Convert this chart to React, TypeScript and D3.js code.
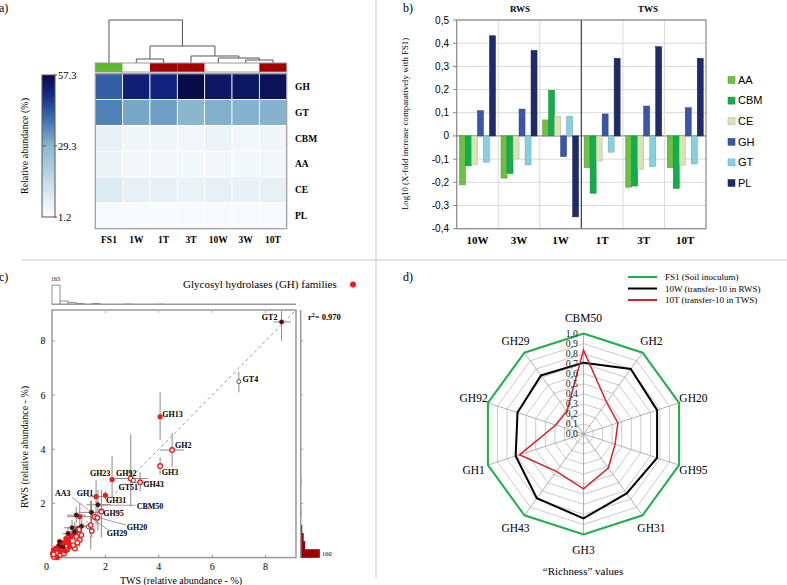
import React from "react";
import * as d3 from "d3";

const SERIF = "'Liberation Serif','Times New Roman',serif";
const SANS = "'Liberation Sans',Arial,sans-serif";

// ---------------- Panel a : heatmap ----------------
const samples = ["FS1", "1W", "1T", "3T", "10W", "3W", "10T"];
const sampleSystem = ["soil", "RWS", "TWS", "TWS", "RWS", "RWS", "TWS"];
const families = ["GH", "GT", "CBM", "AA", "CE", "PL"];
const abGH = [42.5, 52, 51, 57.3, 54, 54.3, 55.5];
const abGT = [37.5, 32, 33, 29.5, 30.5, 30, 30];
const abCBM = [7.1, 4.5, 4.5, 4.2, 5.5, 4.3, 4.5];
const abAA = [6, 4.2, 4.2, 4, 4.2, 4, 4.2];
const abCE = [9.6, 7.3, 7, 6.5, 7, 6.8, 7.2];
const abPL = [3.2, 3, 2.8, 3, 3, 3, 3];
const colorbarTicks = [57.3, 29.3, 1.2];
const dendroA = ["1W", "3W", "10W", "3T", "n1", "FS1"];
const dendroB = ["1T", "10T", "n2", "n3", "n4", "n5"];
const dendroH = [0.093, 0.07, 0.116, 0.163, 0.395, 1];

// ---------------- Panel b : bars ----------------
const bGroups = ["10W", "3W", "1W", "1T", "3T", "10T"];
const bSeries = ["AA", "CBM", "CE", "GH", "GT", "PL"];
const bColors = ["#6dbf45", "#12ad4c", "#d6e4b8", "#3b56a8", "#88d0e0", "#1f2b68"];
const logAA = [-0.211, -0.182, 0.069, -0.137, -0.221, -0.137];
const logCBM = [-0.129, -0.162, 0.197, -0.247, -0.216, -0.226];
const logCE = [-0.122, -0.099, 0.085, -0.108, -0.144, -0.126];
const logGH = [0.109, 0.116, -0.089, 0.095, 0.129, 0.122];
const logGT = [-0.113, -0.125, 0.085, -0.07, -0.132, -0.121];
const logPL = [0.432, 0.369, -0.349, 0.335, 0.385, 0.335];
const bTicks = [0.5, 0.4, 0.3, 0.2, 0.1, 0, -0.1, -0.2, -0.3, -0.4];

// ---------------- Panel c : scatter ----------------
const cNames = ["GT2", "GT4", "GH13", "GH2", "GH3", "GH23", "GH92", "GT51", "GH43", "GH1", "GH31", "CBM50", "AA3", "GH95", "GH20", "GH29"];
const cTWS = [8.6, 7.0, 4.05, 4.5, 4.05, 2.25, 2.95, 3.05, 3.3, 1.65, 2.0, 1.72, 1.48, 1.85, 1.6, 1.7];
const cRWS = [8.7, 6.5, 5.2, 3.97, 3.38, 2.88, 2.92, 2.85, 2.78, 2.25, 2.3, 1.95, 1.67, 1.7, 1.5, 1.47];
const cKind = ["other", "otherOpen", "gh", "ghOpen", "ghOpen", "gh", "ghOpen", "otherOpen", "ghOpen", "gh", "gh", "other", "other", "ghOpen", "ghOpen", "ghOpen"];
const cTWSlo = [8.3, 7.0, 4.05, 4.05, 4.05, 2.25, 2.3, 3.05, 2.95, 1.35, 2.0, 1.3, 1.0, 1.85, 1.6, 1.7];
const cTWShi = [8.95, 7.0, 4.05, 4.95, 4.05, 2.25, 3.6, 3.05, 3.65, 2.1, 2.0, 2.2, 1.9, 1.85, 1.6, 1.7];
const cRWSlo = [8.0, 6.1, 4.35, 3.35, 3.05, 2.2, 1.9, 2.85, 2.45, 1.2, 2.15, 1.0, 1.2, 0.75, 1.5, 1.47];
const cRWShi = [9.1, 6.85, 6.1, 4.6, 3.7, 3.75, 4.55, 2.85, 3.15, 2.85, 2.45, 2.5, 2.1, 2.5, 1.5, 1.47];
const cLabelX = [7.86, 7.14, 4.13, 4.61, 4.11, 1.42, 2.4, 2.49, 3.42, 0.93, 2.02, 3.17, 0.11, 1.92, 2.8, 2.05];
const cLabelY = [8.87, 6.57, 5.29, 4.15, 3.16, 3.1, 3.13, 2.59, 2.71, 2.39, 2.12, 1.91, 2.37, 1.65, 1.14, 0.9];
const leaderName = ["AA3", "CBM50", "GH20", "GH29"];
const leaderX1 = [0.74, 1.75, 1.65, 1.55];
const leaderY1 = [2.24, 1.94, 1.5, 1.4];
const leaderX2 = [1.45, 3.12, 2.78, 2.08];
const leaderY2 = [1.69, 1.93, 1.2, 1.05];
const clTWS = [1.04, 0.91, 0.75, 0.99, 1.11, 1.36, 1.45, 1.49, 1.01, 0.88, 0.86, 0.79, 0.70, 0.60, 0.91, 1.10, 1.04, 0.79, 0.47, 0.35, 0.22, 0.10, 0.02, 0.54, 0.29, 0.16, 0.04, 0.66, 0.41, 0.60, 0.85, 0.05, 0.18, 0.30, 0.12, 0.25, 0.40, 0.52, 0.08, 0.33, 0.45, 0.62, 0.20, 0.14, 0.06, 0.28, 0.50, 0.95];
const clRWS = [1.51, 1.57, 1.10, 1.08, 1.16, 1.14, 1.20, 0.98, 1.03, 0.95, 0.34, 0.83, 0.77, 0.65, 0.77, 0.83, 0.65, 0.46, 0.53, 0.40, 0.31, 0.22, 0.16, 0.28, 0.16, 0.10, 0.06, 0.40, 0.39, 0.89, 0.95, 0.28, 0.16, 0.10, 0.05, 0.45, 0.55, 0.70, 0.02, 0.22, 0.15, 0.55, 0.0, 0.35, 0.12, 0.60, 0.25, 0.55];
const clKind = ["gh", "other", "other", "other", "other", "otherOpen", "ghOpen", "ghOpen", "ghOpen", "ghOpen", "ghOpen", "gh", "gh", "gh", "ghOpen", "ghOpen", "ghOpen", "ghOpen", "gh", "gh", "gh", "gh", "gh", "ghOpen", "ghOpen", "ghOpen", "gh", "gh", "other", "other", "other", "gh", "ghOpen", "ghOpen", "gh", "other", "gh", "gh", "ghOpen", "gh", "ghOpen", "gh", "gh", "gh", "ghOpen", "other", "gh", "ghOpen"];
const clXerr = [0.47, 0.35, 0.3, 0, 0.25, 0.15, 0, 0, 0, 0.2, 0, 0.15, 0, 0, 0, 0, 0, 0, 0.2, 0, 0, 0, 0, 0, 0, 0, 0, 0, 0.1, 0.2, 0.3, 0, 0, 0, 0, 0, 0, 0, 0, 0, 0, 0, 0, 0, 0, 0, 0, 0];
const clYerr = [0.5, 0.3, 0.3, 0, 0.25, 0, 0.9, 0.25, 0, 0.2, 0, 0.2, 0.2, 0.3, 0, 0, 0.25, 0, 0.15, 0.15, 0, 0, 0, 0, 0, 0, 0, 0.2, 0, 0.25, 0.35, 0, 0, 0, 0, 0.15, 0, 0.2, 0, 0, 0, 0.25, 0, 0, 0, 0, 0, 0];
const histBin = 0.3;
const topHistCounts = [163, 28, 14, 6, 0, 6, 0, 0, 0, 2, 0, 0, 0, 1];
const rightHistCounts = [160, 36, 22, 11, 0, 2, 0, 0, 0, 2];

// ---------------- Panel d : radar ----------------
const radarAxes = ["CBM50", "GH2", "GH20", "GH95", "GH31", "GH3", "GH43", "GH1", "GH92", "GH29"];
const richFS1 = [1, 1, 1, 1, 1, 1, 1, 1, 1, 1];
const rich10W = [0.71, 0.8, 0.77, 0.77, 0.73, 0.84, 0.79, 0.71, 0.69, 0.72];
const rich10T = [0.835, 0.39, 0.36, 0.33, 0.42, 0.545, 0.46, 0.67, 0.29, 0.28];
const radarNames = ["FS1 (Soil inoculum)", "10W (transfer-10 in RWS)", "10T (transfer-10 in TWS)"];
const radarColors = ["#1fb04a", "#000000", "#d0262b"];

function fmtComma(v: number) {
  if (v === 0) return "0";
  return (v < 0 ? "-" : "") + Math.abs(v).toFixed(1).replace(".", ",");
}

function PanelA() {
  const hx = d3.scaleBand<string>().domain(samples).range([95.3, 286.7]);
  const hy = d3.scaleBand<string>().domain(families).range([73.7, 228.7]);
  const heat = d3
    .scaleLinear<string>()
    .domain([1.2, 29.3, 40, 50, 57.3])
    .range(["#ffffff", "#8ab8cf", "#3d6fae", "#132585", "#080c48"]);
  const matrix = [abGH, abGT, abCBM, abAA, abCE, abPL];
  const sysColor: Record<string, string> = { soil: "#5db92c", RWS: "#ffffff", TWS: "#a30000" };
  const dy = d3.scaleLinear().domain([0, 1]).range([63, 20]);
  const nodes: Record<string, { x: number; h: number }> = {};
  samples.forEach((s) => (nodes[s] = { x: hx(s)! + hx.bandwidth() / 2, h: 0 }));
  const dPaths: string[] = [];
  dendroA.forEach((a, i) => {
    const b = dendroB[i];
    const na = nodes[a], nb = nodes[b];
    const h = dendroH[i];
    nodes["n" + (i + 1)] = { x: (na.x + nb.x) / 2, h };
    dPaths.push(`M${na.x},${dy(na.h)}V${dy(h)}H${nb.x}V${dy(nb.h)}`);
  });
  const cb = d3.scaleLinear().domain([1.2, 57.3]).range([217, 75]);
  const stops = d3.range(0, 1.0001, 0.05);
  return (
    <g>
      <text x={-1} y={12} fontFamily={SERIF} fontSize={12}>a)</text>
      <defs>
        <linearGradient id="cbgrad" x1="0" y1="1" x2="0" y2="0">
          {stops.map((t) => (
            <stop key={t} offset={t} stopColor={heat(1.2 + t * (57.3 - 1.2))} />
          ))}
        </linearGradient>
      </defs>
      {dPaths.map((p, i) => (
        <path key={i} d={p} fill="none" stroke="#555" strokeWidth={1} />
      ))}
      {samples.map((s, i) => (
        <rect key={s} x={hx(s)} y={63} width={hx.bandwidth()} height={9} fill={sysColor[sampleSystem[i]]} />
      ))}
      <rect x={95.3} y={63} width={191.4} height={9} fill="none" stroke="#999" strokeWidth={1} />
      {families.map((f, r) =>
        samples.map((s, c) => (
          <rect key={f + s} x={hx(s)} y={hy(f)} width={hx.bandwidth()} height={hy.bandwidth()} fill={heat(matrix[r][c])} stroke="#ffffff" strokeWidth={0.8} />
        ))
      )}
      <rect x={95.3} y={73.7} width={191.4} height={155} fill="none" stroke="#999" strokeWidth={1.2} />
      {families.map((f) => (
        <text key={f} x={295} y={hy(f)! + hy.bandwidth() / 2} dy="0.35em" fontFamily={SERIF} fontWeight="bold" fontSize={9.5}>{f}</text>
      ))}
      {samples.map((s) => (
        <text key={s} x={hx(s)! + hx.bandwidth() / 2} y={243} textAnchor="middle" fontFamily={SERIF} fontWeight="bold" fontSize={9.5}>{s}</text>
      ))}
      <rect x={42} y={75} width={13} height={142} fill="url(#cbgrad)" stroke="#555" strokeWidth={1} />
      {colorbarTicks.map((t) => (
        <g key={t}>
          <line x1={54} x2={57} y1={cb(t)} y2={cb(t)} stroke="#555" />
          <text x={58} y={cb(t)} dy="0.35em" fontFamily={SERIF} fontSize={10.5}>{t.toFixed(1)}</text>
        </g>
      ))}
      <line x1={43} x2={46} y1={cb(29.3)} y2={cb(29.3)} stroke="#555" />
      <text transform={`translate(28,146) rotate(-90)`} textAnchor="middle" fontFamily={SERIF} fontSize={10}>Relative abundance (%)</text>
    </g>
  );
}

function PanelB() {
  const bx = d3.scaleBand<string>().domain(bGroups).range([456.7, 706]);
  const bxi = d3.scaleBand<string>().domain(bSeries).range([0, bx.bandwidth()]).paddingOuter(0.46);
  const by = d3.scaleLinear().domain([-0.4, 0.5]).range([228.7, 20]);
  const vals = [logAA, logCBM, logCE, logGH, logGT, logPL];
  return (
    <g>
      <text x={403} y={12} fontFamily={SERIF} fontSize={12}>b)</text>
      <text x={520} y={12} textAnchor="middle" fontFamily={SERIF} fontWeight="bold" fontSize={9}>RWS</text>
      <text x={648} y={12} textAnchor="middle" fontFamily={SERIF} fontWeight="bold" fontSize={9}>TWS</text>
      {bTicks.map((t) => (
        <g key={t}>
          <line x1={456.7} x2={706} y1={by(t)} y2={by(t)} stroke={t === 0 ? "#888" : "#d9d9d9"} strokeWidth={t === 0 ? 1.2 : 1} />
          <line x1={453} x2={456.7} y1={by(t)} y2={by(t)} stroke="#888" />
          <text x={449} y={by(t)} dy="0.35em" textAnchor="end" fontFamily={SANS} fontSize={10}>{fmtComma(t)}</text>
        </g>
      ))}
      {bGroups.slice(1).map((g) => (
        <line key={g} x1={bx(g)} x2={bx(g)} y1={20} y2={228.7} stroke="#d9d9d9" />
      ))}
      {bSeries.map((s, si) =>
        bGroups.map((g, gi) => {
          const v = vals[si][gi];
          return (
            <rect key={s + g} x={bx(g)! + bxi(s)!} y={by(Math.max(0, v))} width={bxi.bandwidth()} height={Math.abs(by(v) - by(0))} fill={bColors[si]} stroke={d3.color(bColors[si])!.darker(0.7).toString()} strokeWidth={0.5} />
          );
        })
      )}
      <line x1={bx("1T")} x2={bx("1T")} y1={20} y2={228.7} stroke="#444" strokeWidth={1.2} />
      <rect x={456.7} y={20} width={249.3} height={208.7} fill="none" stroke="#888" strokeWidth={1.2} />
      {bGroups.map((g) => (
        <text key={g} x={bx(g)! + bx.bandwidth() / 2} y={244} textAnchor="middle" fontFamily={SERIF} fontWeight="bold" fontSize={11}>{g}</text>
      ))}
      <text transform={`translate(408,124) rotate(-90)`} textAnchor="middle" fontFamily={SERIF} fontSize={8.8}>Log10 (X-fold increase comparatively with  FS1)</text>
      {bSeries.map((s, i) => (
        <g key={s}>
          <rect x={728} y={76.5 + i * 20.6} width={7} height={7} fill={bColors[i]} stroke={d3.color(bColors[i])!.darker(0.7).toString()} strokeWidth={0.5} />
          <text x={738} y={80 + i * 20.6} dy="0.35em" fontFamily={SANS} fontSize={11}>{s}</text>
        </g>
      ))}
    </g>
  );
}

function Marker({ x, y, kind }: { x: number; y: number; kind: string }) {
  if (kind === "gh") return <circle cx={x} cy={y} r={2.6} fill="#ee1c1c" />;
  if (kind === "ghOpen") return <circle cx={x} cy={y} r={2.3} fill="#fff" stroke="#ee1c1c" strokeWidth={1.3} />;
  if (kind === "other") return <circle cx={x} cy={y} r={2.2} fill="#5a0c0c" stroke="#222" strokeWidth={0.4} />;
  return <circle cx={x} cy={y} r={2} fill="#fff" stroke="#222" strokeWidth={0.8} />;
}

function PanelC() {
  const cx = d3.scaleLinear().domain([0, 9.14]).range([52, 296]);
  const cy = d3.scaleLinear().domain([0, 9.14]).range([557.6, 310]);
  const hScale = d3.scaleLinear().domain([0, 165]).range([0, 19.4]);
  const ticks = [2, 4, 6, 8];
  return (
    <g>
      <text x={-1} y={281} fontFamily={SERIF} fontSize={12}>c)</text>
      <text x={183} y={288} fontFamily={SERIF} fontSize={11}>Glycosyl hydrolases (GH) families</text>
      <circle cx={353} cy={284.5} r={3} fill="#ee1c1c" />
      {topHistCounts.map((c, i) =>
        c > 0 ? (
          <rect key={i} x={cx(i * histBin)} y={304.3 - hScale(c)} width={cx(histBin) - cx(0)} height={hScale(c)} fill="#fff" stroke="#777" strokeWidth={0.8} />
        ) : null
      )}
      <line x1={52} x2={296} y1={304.3} y2={304.3} stroke="#999" strokeWidth={1.5} />
      <text x={51} y={281} fontFamily={SERIF} fontSize={6}>{topHistCounts[0]}</text>
      {rightHistCounts.map((c, i) =>
        c > 0 ? (
          <rect key={i} x={300.7} y={cy((i + 1) * histBin)} width={hScale(c)} height={cy(0) - cy(histBin)} fill="#a00000" stroke="#400" strokeWidth={0.5} />
        ) : null
      )}
      <line x1={300.7} x2={300.7} y1={310} y2={557.6} stroke="#999" strokeWidth={1.5} />
      {ticks.map((t) => (
        <line key={t} x1={300.7} x2={303} y1={cy(t)} y2={cy(t)} stroke="#999" />
      ))}
      <text x={322} y={554} dy="0.35em" fontFamily={SERIF} fontSize={6.5}>{rightHistCounts[0]}</text>
      <rect x={52} y={310} width={244} height={247.6} fill="none" stroke="#999" strokeWidth={1.5} />
      {ticks.map((t) => (
        <g key={t}>
          <line x1={52} x2={55} y1={cy(t)} y2={cy(t)} stroke="#999" />
          <line x1={cx(t)} x2={cx(t)} y1={310} y2={313} stroke="#bbb" />
          <line x1={cx(t)} x2={cx(t)} y1={557.6} y2={554.6} stroke="#999" />
          <text x={45.5} y={cy(t)} dy="0.35em" textAnchor="end" fontFamily={SERIF} fontSize={10}>{t}</text>
          <text x={cx(t)} y={569.5} textAnchor="middle" fontFamily={SERIF} fontSize={10}>{t}</text>
        </g>
      ))}
      <text x={46.5} y={569.5} textAnchor="middle" fontFamily={SERIF} fontSize={10}>0</text>
      <text x={181} y={584} textAnchor="middle" fontFamily={SERIF} fontSize={10}>TWS (relative abundance - %)</text>
      <text transform={`translate(28,447) rotate(-90)`} textAnchor="middle" fontFamily={SERIF} fontSize={10}>RWS (relative abundance - %)</text>
      <line x1={cx(0)} y1={cy(0)} x2={cx(9.14)} y2={cy(9.14)} stroke="#999" strokeWidth={1} strokeDasharray="3,3" />
      {clTWS.map((x, i) => (
        <g key={"ce" + i}>
          {clXerr[i] > 0 && <line x1={cx(x - clXerr[i])} x2={cx(x + clXerr[i])} y1={cy(clRWS[i])} y2={cy(clRWS[i])} stroke="#8a8a8a" />}
          {clYerr[i] > 0 && <line x1={cx(x)} x2={cx(x)} y1={cy(clRWS[i] - clYerr[i])} y2={cy(clRWS[i] + clYerr[i])} stroke="#8a8a8a" />}
        </g>
      ))}
      {cNames.map((n, i) => (
        <g key={"e" + n}>
          <line x1={cx(cTWSlo[i])} x2={cx(cTWShi[i])} y1={cy(cRWS[i])} y2={cy(cRWS[i])} stroke="#8a8a8a" />
          <line x1={cx(cTWS[i])} x2={cx(cTWS[i])} y1={cy(cRWSlo[i])} y2={cy(cRWShi[i])} stroke="#8a8a8a" />
        </g>
      ))}
      {leaderName.map((n, i) => (
        <line key={"l" + n} x1={cx(leaderX1[i])} y1={cy(leaderY1[i])} x2={cx(leaderX2[i])} y2={cy(leaderY2[i])} stroke="#777" strokeWidth={0.7} />
      ))}
      {clTWS.map((x, i) => (
        <Marker key={"cm" + i} x={cx(x)} y={cy(clRWS[i])} kind={clKind[i]} />
      ))}
      {cNames.map((n, i) => (
        <Marker key={"m" + n} x={cx(cTWS[i])} y={cy(cRWS[i])} kind={cKind[i]} />
      ))}
      {cNames.map((n, i) => (
        <text key={"t" + n} x={cx(cLabelX[i])} y={cy(cLabelY[i])} dy="0.35em" fontFamily={SERIF} fontWeight="bold" fontSize={8}>{n}</text>
      ))}
      <text x={308} y={319.5} fontFamily={SERIF} fontWeight="bold" fontSize={8.5}>
        r<tspan fontSize={6} dy={-3}>2</tspan><tspan dy={3}>= 0.970</tspan>
      </text>
    </g>
  );
}

function PanelD() {
  const ccx = 583.5, ccy = 434;
  const r = d3.scaleLinear().domain([0, 1]).range([0, 100.5]);
  const n = radarAxes.length;
  const ang = (i: number) => (i * 2 * Math.PI) / n;
  const pt = (i: number, v: number): [number, number] => [ccx + r(v) * Math.sin(ang(i)), ccy - r(v) * Math.cos(ang(i))];
  const line = d3.line().curve(d3.curveLinearClosed);
  const levels = d3.range(1, 11).map((k) => k / 10);
  const series = [richFS1, rich10W, rich10T];
  const widths = [2, 2, 1.5];
  return (
    <g>
      <text x={403} y={281} fontFamily={SERIF} fontSize={12}>d)</text>
      {radarNames.map((nm, i) => (
        <g key={nm}>
          <line x1={628} x2={657} y1={277 + i * 11.5} y2={277 + i * 11.5} stroke={radarColors[i]} strokeWidth={2} />
          <text x={665} y={277 + i * 11.5} dy="0.35em" fontFamily={SERIF} fontSize={9}>{nm}</text>
        </g>
      ))}
      {levels.map((l) => (
        <path key={l} d={line(radarAxes.map((_, i) => pt(i, l)))!} fill="none" stroke="#bdbdbd" strokeWidth={0.8} />
      ))}
      {radarAxes.map((a, i) => {
        const [x, y] = pt(i, 1);
        return <line key={a} x1={ccx} y1={ccy} x2={x} y2={y} stroke="#a0a0a0" strokeWidth={0.8} />;
      })}
      {series.map((s, k) => (
        <path key={k} d={line(s.map((v, i) => pt(i, v)))!} fill="none" stroke={radarColors[k]} strokeWidth={widths[k]} strokeLinejoin="miter" />
      ))}
      {[0, ...levels].map((l) => (
        <text key={"t" + l} x={578} y={ccy - r(l)} dy="0.35em" textAnchor="end" fontFamily={SERIF} fontSize={9.8} fill="#222">{l.toFixed(1).replace(".", ",")}</text>
      ))}
      {radarAxes.map((a, i) => {
        const [x, y] = pt(i, 1.15);
        return (
          <text key={"l" + a} x={x} y={y} dy="0.35em" textAnchor="middle" fontFamily={SERIF} fontSize={11.5}>{a}</text>
        );
      })}
      <text x={583} y={575} textAnchor="middle" fontFamily={SERIF} fontSize={11}>“Richness” values</text>
    </g>
  );
}

export default function App() {
  return (
    <svg width={787} height={585} style={{ position: "absolute", left: 0, top: 0, background: "#fff" }}>
      <rect x={0} y={0} width={787} height={585} fill="#fff" />
      <line x1={22} x2={787} y1={260} y2={260} stroke="#c8c8c8" strokeWidth={1} />
      <line x1={376} x2={376} y1={0} y2={578} stroke="#c8c8c8" strokeWidth={1} />
      <PanelA />
      <PanelB />
      <PanelC />
      <PanelD />
    </svg>
  );
}
